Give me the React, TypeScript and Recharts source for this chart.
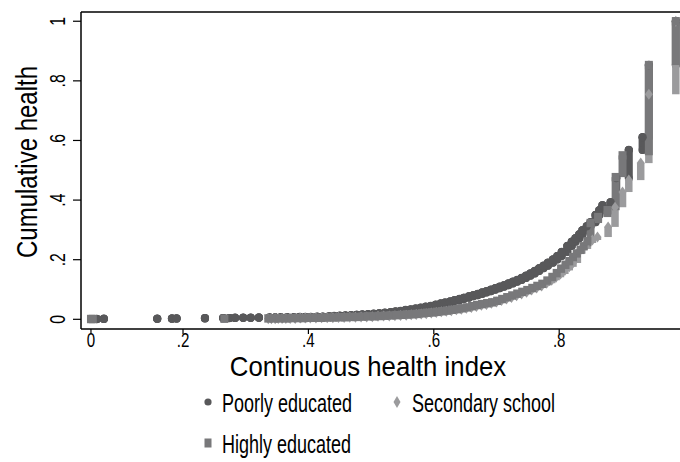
import { ScatterChart, Scatter, XAxis, YAxis, ErrorBar, ReferenceLine, Legend, Label } from 'recharts';

// health index value of each step and cumulative share reached there
const POOR_X = [0.013, 0.028, 0.144, 0.176, 0.186, 0.235, 0.264, 0.274, 0.283, 0.296, 0.308, 0.321, 0.338, 0.347, 0.356, 0.366, 0.377, 0.386, 0.395, 0.404, 0.414, 0.423, 0.433, 0.441, 0.45, 0.459, 0.468, 0.477, 0.486, 0.495, 0.504, 0.513, 0.522, 0.531, 0.539, 0.547, 0.555, 0.563, 0.571, 0.579, 0.587, 0.595, 0.603, 0.611, 0.618, 0.626, 0.633, 0.641, 0.648, 0.656, 0.663, 0.67, 0.677, 0.684, 0.691, 0.698, 0.705, 0.712, 0.719, 0.726, 0.733, 0.74, 0.747, 0.754, 0.761, 0.768, 0.775, 0.782, 0.79, 0.797, 0.804, 0.813, 0.82, 0.826, 0.832, 0.837, 0.844, 0.85, 0.858, 0.864, 0.869, 0.882, 0.891, 0.911, 0.933, 0.943, 0.986];
const POOR_Y = [0.001, 0.002, 0.002, 0.003, 0.003, 0.004, 0.004, 0.004, 0.005, 0.005, 0.005, 0.006, 0.006, 0.006, 0.007, 0.007, 0.007, 0.008, 0.008, 0.008, 0.009, 0.009, 0.01, 0.011, 0.012, 0.013, 0.014, 0.015, 0.016, 0.017, 0.019, 0.02, 0.022, 0.024, 0.026, 0.028, 0.031, 0.033, 0.036, 0.039, 0.042, 0.045, 0.049, 0.053, 0.056, 0.06, 0.064, 0.068, 0.072, 0.077, 0.081, 0.085, 0.09, 0.094, 0.099, 0.104, 0.109, 0.114, 0.12, 0.126, 0.132, 0.139, 0.146, 0.154, 0.162, 0.171, 0.18, 0.19, 0.201, 0.212, 0.226, 0.246, 0.26, 0.272, 0.285, 0.299, 0.312, 0.326, 0.35, 0.366, 0.383, 0.393, 0.474, 0.568, 0.611, 0.853, 1.0];

const SEC_X = [0.336, 0.341, 0.347, 0.352, 0.358, 0.364, 0.371, 0.379, 0.387, 0.395, 0.403, 0.412, 0.421, 0.43, 0.439, 0.448, 0.457, 0.466, 0.475, 0.484, 0.493, 0.502, 0.511, 0.52, 0.529, 0.538, 0.547, 0.556, 0.564, 0.572, 0.58, 0.588, 0.596, 0.604, 0.612, 0.62, 0.628, 0.636, 0.644, 0.652, 0.66, 0.668, 0.676, 0.684, 0.692, 0.7, 0.708, 0.716, 0.724, 0.732, 0.74, 0.748, 0.756, 0.764, 0.772, 0.78, 0.788, 0.795, 0.802, 0.809, 0.816, 0.822, 0.829, 0.836, 0.845, 0.853, 0.861, 0.878, 0.889, 0.901, 0.911, 0.93, 0.943, 0.986];
const SEC_Y = [0.002, 0.002, 0.002, 0.003, 0.003, 0.003, 0.003, 0.003, 0.004, 0.004, 0.004, 0.004, 0.005, 0.005, 0.005, 0.006, 0.006, 0.007, 0.007, 0.008, 0.008, 0.009, 0.01, 0.011, 0.011, 0.012, 0.013, 0.014, 0.015, 0.016, 0.018, 0.019, 0.021, 0.023, 0.025, 0.027, 0.029, 0.032, 0.034, 0.037, 0.04, 0.043, 0.047, 0.05, 0.054, 0.058, 0.063, 0.068, 0.073, 0.079, 0.085, 0.091, 0.098, 0.105, 0.112, 0.121, 0.131, 0.141, 0.152, 0.164, 0.176, 0.189, 0.22, 0.236, 0.256, 0.266, 0.276, 0.31, 0.376, 0.427, 0.467, 0.524, 0.755, 1.0];

const HIGH_X = [0.0, 0.004, 0.266, 0.336, 0.345, 0.354, 0.364, 0.373, 0.383, 0.392, 0.402, 0.411, 0.421, 0.43, 0.44, 0.449, 0.458, 0.467, 0.476, 0.486, 0.495, 0.504, 0.513, 0.522, 0.531, 0.54, 0.549, 0.557, 0.565, 0.573, 0.581, 0.589, 0.597, 0.605, 0.613, 0.621, 0.629, 0.637, 0.645, 0.653, 0.661, 0.669, 0.677, 0.685, 0.693, 0.701, 0.709, 0.717, 0.725, 0.733, 0.741, 0.749, 0.757, 0.765, 0.773, 0.781, 0.789, 0.796, 0.803, 0.81, 0.816, 0.822, 0.828, 0.834, 0.839, 0.845, 0.85, 0.862, 0.877, 0.89, 0.901, 0.943, 0.986];
const HIGH_Y = [0.001, 0.001, 0.002, 0.003, 0.003, 0.003, 0.003, 0.004, 0.004, 0.004, 0.005, 0.005, 0.005, 0.006, 0.006, 0.007, 0.007, 0.008, 0.008, 0.009, 0.01, 0.01, 0.011, 0.012, 0.013, 0.014, 0.015, 0.016, 0.017, 0.018, 0.02, 0.022, 0.023, 0.025, 0.027, 0.029, 0.032, 0.034, 0.037, 0.04, 0.044, 0.048, 0.051, 0.054, 0.057, 0.062, 0.068, 0.074, 0.08, 0.086, 0.092, 0.098, 0.105, 0.112, 0.119, 0.13, 0.142, 0.155, 0.17, 0.183, 0.195, 0.209, 0.221, 0.233, 0.245, 0.262, 0.323, 0.343, 0.366, 0.477, 0.55, 0.853, 1.0];

const SERIES_NAMES = ['Poorly educated', 'Secondary school', 'Highly educated'];
const X_TICKS = [0, 0.2, 0.4, 0.6, 0.8];
const X_TICK_LABELS = ['0', '.2', '.4', '.6', '.8'];
const Y_TICKS = [0, 0.2, 0.4, 0.6, 0.8, 1];
const Y_TICK_LABELS = ['0', '.2', '.4', '.6', '.8', '1'];

const DARK = '#58585a';
const LIGHT = '#9b9b9d';
const MID = '#78787a';
const FONT = '"Liberation Sans", Arial, sans-serif';

// the original axis is squeezed below .2
const SQUEEZE = 0.734;
const toAxis = (x: number) => (x >= 0.2 ? x : 0.2 - (0.2 - x) * SQUEEZE);

const X_DOMAIN = [0.0373, 1.0];
const Y_DOMAIN = [-0.0325, 1.031];

function buildSeries(xs: number[], ys: number[]) {
  return xs.map((x, i) => ({
    u: toAxis(x),
    y: ys[i],
    // vertical run of observations sharing this value
    err: [i === 0 ? 0 : ys[i] - ys[i - 1], 0],
  }));
}

const poorData = buildSeries(POOR_X, POOR_Y);
const secData = buildSeries(SEC_X, SEC_Y);
const highData = buildSeries(HIGH_X, HIGH_Y);

const Circle = (p: any) => <circle cx={p.cx} cy={p.cy} r={4.2} fill={DARK} />;
const Diamond = (p: any) => (
  <polygon
    points={`${p.cx},${p.cy - 5.5} ${p.cx + 4},${p.cy} ${p.cx},${p.cy + 5.5} ${p.cx - 4},${p.cy}`}
    fill={LIGHT}
  />
);
const Square = (p: any) => <rect x={p.cx - 4} y={p.cy - 4.2} width={8} height={8.4} fill={MID} />;

const XTick = (p: any) => {
  const i = X_TICKS.findIndex((t) => Math.abs(toAxis(t) - p.payload.value) < 1e-6);
  return (
    <text
      transform={`translate(${p.x},${p.y + 11}) scale(0.72,1)`}
      textAnchor="middle"
      fontSize={21}
      fontFamily={FONT}
      fill="#000"
    >
      {X_TICK_LABELS[i]}
    </text>
  );
};

const YTick = (p: any) => {
  const i = Y_TICKS.findIndex((t) => Math.abs(t - p.payload.value) < 1e-6);
  return (
    <text
      transform={`translate(${p.x - 6},${p.y}) rotate(-90) scale(0.72,1)`}
      textAnchor="middle"
      fontSize={22}
      fontFamily={FONT}
      fill="#000"
    >
      {Y_TICK_LABELS[i]}
    </text>
  );
};

const legendText = (x: number, y: number, s: string) => (
  <text transform={`translate(${x},${y}) scale(0.72,1)`} fontSize={25} fontFamily={FONT} fill="#000">
    {s}
  </text>
);

const LegendBox = () => (
  <svg width={680} height={82}>
    <circle cx={208} cy={22} r={3.6} fill={DARK} />
    {legendText(222, 32, SERIES_NAMES[0])}
    <polygon points="397,16 400.5,22 397,28 393.5,22" fill={LIGHT} />
    {legendText(412, 32, SERIES_NAMES[1])}
    <rect x={204.5} y={58.5} width={7} height={9} fill={MID} />
    {legendText(222, 73, SERIES_NAMES[2])}
  </svg>
);

export default function App() {
  return (
    <div style={{ position: 'absolute', left: 0, top: 0, width: 680, height: 462, overflow: 'hidden', background: '#fff' }}>
      <ScatterChart width={690} height={462} margin={{ top: 12, right: 5.4, bottom: 0, left: 0 }}>
        <XAxis
          type="number"
          dataKey="u"
          domain={X_DOMAIN}
          allowDataOverflow
          ticks={X_TICKS.map(toAxis)}
          tick={<XTick />}
          tickSize={5}
          height={133}
          axisLine={{ stroke: '#000', strokeWidth: 1.5 }}
          tickLine={{ stroke: '#000', strokeWidth: 1.2 }}
        >
          <Label
            content={() => (
              <text transform="translate(368,376) scale(0.92,1)" textAnchor="middle" fontSize={28} fontFamily={FONT} fill="#000">
                Continuous health index
              </text>
            )}
          />
        </XAxis>
        <YAxis
          type="number"
          dataKey="y"
          domain={Y_DOMAIN}
          allowDataOverflow
          ticks={Y_TICKS}
          tick={<YTick />}
          tickSize={8}
          width={81}
          axisLine={{ stroke: '#000', strokeWidth: 1.5 }}
          tickLine={{ stroke: '#000', strokeWidth: 1.2 }}
        >
          <Label
            content={() => (
              <text transform="translate(37,162) rotate(-90) scale(0.8,1)" textAnchor="middle" fontSize={30} fontFamily={FONT} fill="#000">
                Cumulative health
              </text>
            )}
          />
        </YAxis>
        <ReferenceLine y={Y_DOMAIN[1]} stroke="#000" strokeWidth={1.5} />
        <Scatter name={SERIES_NAMES[0]} data={poorData} fill={DARK} shape={Circle} isAnimationActive={false}>
          <ErrorBar dataKey="err" direction="y" width={0} stroke={DARK} strokeWidth={8} strokeLinecap="round" isAnimationActive={false} />
        </Scatter>
        <Scatter name={SERIES_NAMES[1]} data={secData} fill={LIGHT} shape={Diamond} isAnimationActive={false}>
          <ErrorBar dataKey="err" direction="y" width={0} stroke={LIGHT} strokeWidth={7.5} isAnimationActive={false} />
        </Scatter>
        <Scatter name={SERIES_NAMES[2]} data={highData} fill={MID} shape={Square} isAnimationActive={false}>
          <ErrorBar dataKey="err" direction="y" width={0} stroke={MID} strokeWidth={8} isAnimationActive={false} />
        </Scatter>
        <Legend
          layout="horizontal"
          verticalAlign="middle"
          align="center"
          content={() => <LegendBox />}
          wrapperStyle={{ left: 0, top: 380, width: 680, height: 82 }}
        />
      </ScatterChart>
    </div>
  );
}
